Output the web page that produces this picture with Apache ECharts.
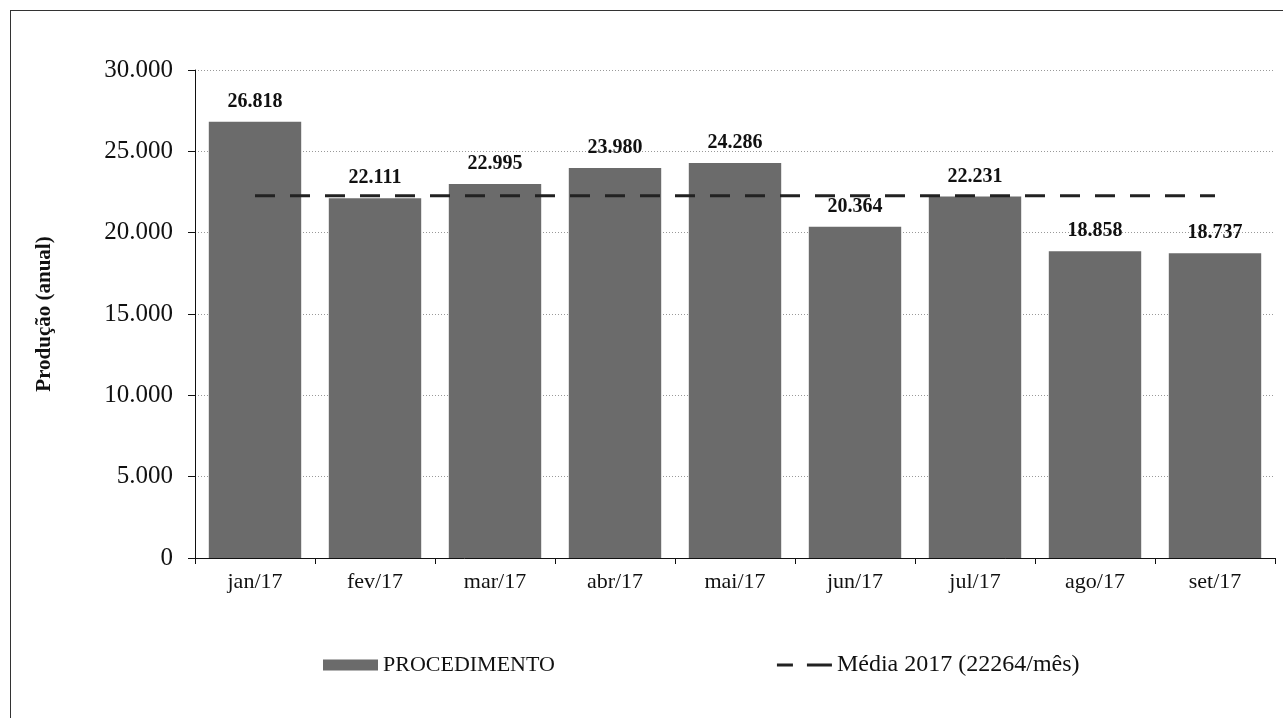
<!DOCTYPE html>
<html><head><meta charset="utf-8">
<script src="https://cdn.jsdelivr.net/npm/echarts@6/dist/echarts.min.js"></script>
<style>html,body{margin:0;padding:0;background:#fff}#c{width:1283px;height:718px}
#frame{position:absolute;left:10px;top:10px;width:1290px;height:720px;border:1px solid #333;box-sizing:border-box;pointer-events:none}</style>
</head><body><div id="c"></div><div id="frame"></div>
<script>
const categories = ['jan/17','fev/17','mar/17','abr/17','mai/17','jun/17','jul/17','ago/17','set/17'];
const producao = [26818, 22111, 22995, 23980, 24286, 20364, 22231, 18858, 18737];
const media = 22264;
const mediaValues = categories.map(() => media);
const yTicks = {min: 0, max: 30000, interval: 5000};
const seriesNames = ['PROCEDIMENTO', 'Média 2017 (22264/mês)'];

const fmt = v => String(v).replace(/\B(?=(\d{3})+(?!\d))/g, '.');
const font = '"Liberation Serif", "Times New Roman", serif';
const chart = echarts.init(document.getElementById('c'));
chart.setOption({
  animation: false,
  textStyle: {fontFamily: font},
  grid: {left: 195, right: 8, top: 70, bottom: 160, containLabel: false},
  legend: {
    left: 318, top: 648, itemGap: 222, itemWidth: 55, itemHeight: 11,
    textStyle: {fontFamily: font, fontSize: 22, color: '#111'},
    data: [
      {name: seriesNames[0], icon: 'rect'},
      {name: seriesNames[1], icon: 'path://M0 0h16v3h-16z M30 0h25v3h-25z',
       itemStyle: {color: '#222'}, textStyle: {fontSize: 24}}
    ]
  },
  xAxis: {
    type: 'category', data: categories,
    axisLine: {lineStyle: {color: '#111', width: 1}},
    axisTick: {show: true, length: 6, lineStyle: {color: '#111'}},
    axisLabel: {fontFamily: font, fontSize: 22, color: '#111', margin: 13}
  },
  yAxis: {
    type: 'value', min: yTicks.min, max: yTicks.max, interval: yTicks.interval,
    name: 'Produção (anual)', nameLocation: 'middle', nameGap: 140, nameRotate: 90,
    nameTextStyle: {fontFamily: font, fontSize: 21, fontWeight: 'bold', color: '#111'},
    axisLine: {show: true, lineStyle: {color: '#111'}},
    axisTick: {show: true, length: 7, lineStyle: {color: '#111'}},
    axisLabel: {fontFamily: font, fontSize: 25, color: '#111', margin: 22, formatter: v => fmt(v)},
    splitLine: {lineStyle: {color: '#999', type: [1, 2], width: 1}}
  },
  series: [
    {
      name: seriesNames[0], type: 'bar', data: producao, barCategoryGap: '23%',
      itemStyle: {color: '#6b6b6b'},
      label: {show: true, position: 'top', distance: 10, fontFamily: font, fontSize: 20,
              fontWeight: 'bold', color: '#111', formatter: p => fmt(p.value)}
    },
    {
      name: seriesNames[1], type: 'line', data: mediaValues, symbol: 'none', z: 5,
      lineStyle: {color: '#222', width: 3, type: [20, 15]},
      itemStyle: {color: '#222'}
    }
  ]
});
</script></body></html>
